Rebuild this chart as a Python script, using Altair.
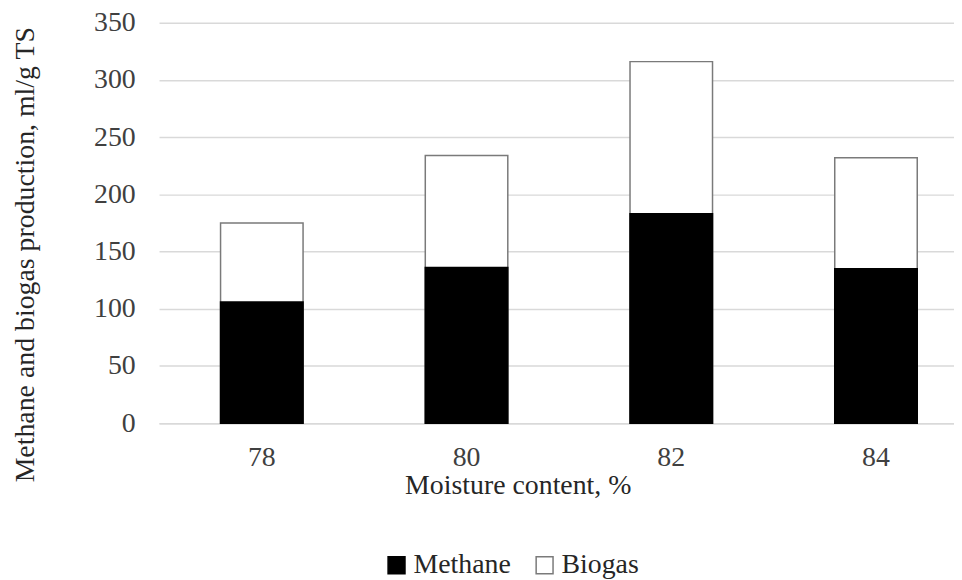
import altair as alt
import pandas as pd

categories = ["78", "80", "82", "84"]
methane = [106, 136, 183, 135]
biogas = [175, 234, 316, 232]

rows = []
for c, b in zip(categories, biogas):
    rows.append({"moisture": c, "series": "Biogas", "value": b})
for c, m in zip(categories, methane):
    rows.append({"moisture": c, "series": "Methane", "value": m})
df = pd.DataFrame(rows)

FONT = "Liberation Serif"

chart = alt.Chart(df).mark_bar(strokeWidth=1.5).encode(
    x=alt.X("moisture:N", sort=categories,
            scale=alt.Scale(paddingInner=0.597, paddingOuter=0.24, align=0.626),
            axis=alt.Axis(title="Moisture content, %", labelAngle=0, ticks=False, tickSize=0,
                          labelPadding=21, domainColor="#d9d9d9", domainWidth=1.5,
                          titleX=361, titleY=71, titleBaseline="alphabetic",
                          titleFontWeight="normal")),
    y=alt.Y("value:Q", stack=None,
            scale=alt.Scale(domain=[0, 350], nice=False),
            axis=alt.Axis(title="Methane and biogas production, ml/g TS",
                          values=[0, 50, 100, 150, 200, 250, 300, 350],
                          ticks=False, tickSize=0, domain=False, labelPadding=24,
                          gridColor="#d9d9d9", gridWidth=1.5,
                          titleX=-126, titleY=233, titleAngle=270,
                          titleBaseline="alphabetic", titleFontWeight="normal")),
    fill=alt.Fill("series:N",
                  scale=alt.Scale(domain=["Methane", "Biogas"], range=["#000000", "#ffffff"]),
                  legend=alt.Legend(title=None, orient="none", direction="horizontal",
                                    legendX=225, legendY=532, symbolType="square",
                                    symbolSize=289, symbolStrokeWidth=1.5, labelOffset=3,
                                    columnPadding=20, padding=0)),
    stroke=alt.Stroke("series:N",
                      scale=alt.Scale(domain=["Methane", "Biogas"], range=["#000000", "#7a7a7a"]),
                      legend=None),
    order=alt.Order("series:N", sort="ascending"),
).properties(
    width=800,
    height=403,
    autosize=alt.AutoSizeParams(type="none"),
    padding={"left": 152, "top": 13, "right": 0, "bottom": 156},
).configure(
    font=FONT,
).configure_axis(
    labelFont=FONT, titleFont=FONT, labelFontSize=28, titleFontSize=28,
    labelColor="#404040", titleColor="#262626",
).configure_legend(
    labelFont=FONT, labelFontSize=28, labelColor="#262626",
).configure_view(
    stroke=None,
)

chart.save("out.html", embed_options={"renderer": "svg", "actions": False})
